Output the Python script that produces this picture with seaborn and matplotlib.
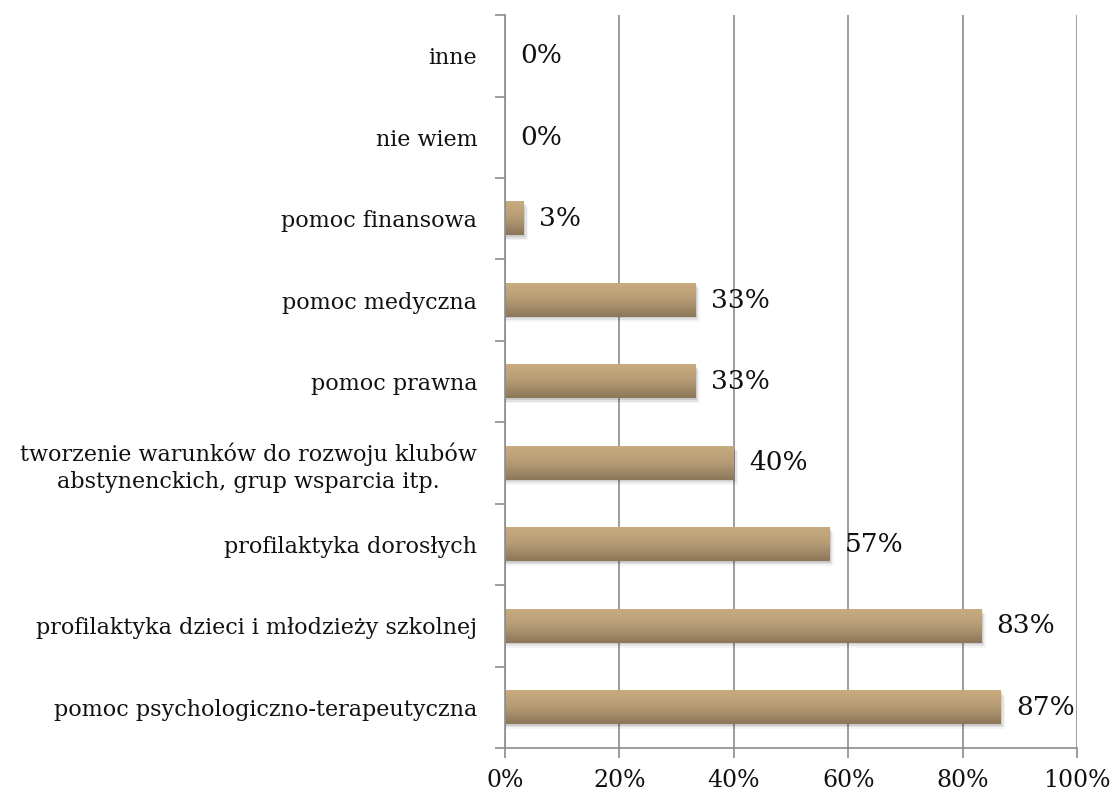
import numpy as np
import pandas as pd
import matplotlib
matplotlib.use("Agg")
import matplotlib.pyplot as plt
from matplotlib.colors import LinearSegmentedColormap
from matplotlib.patches import Rectangle
import seaborn as sns

# Survey answers (top to bottom) and their shares in percent
categories = [
    "inne",
    "nie wiem",
    "pomoc finansowa",
    "pomoc medyczna",
    "pomoc prawna",
    "tworzenie warunków do rozwoju klubów\nabstynenckich, grup wsparcia itp.",
    "profilaktyka dorosłych",
    "profilaktyka dzieci i młodzieży szkolnej",
    "pomoc psychologiczno-terapeutyczna",
]
values = [0.0, 0.0, 3.3, 33.3, 33.3, 40.0, 56.7, 83.3, 86.7]
x_ticks = [0, 20, 40, 60, 80, 100]
x_tick_labels = ["0%", "20%", "40%", "60%", "80%", "100%"]

sns.set_theme(style="white")
FONT = ["DejaVu Serif"]
plt.rcParams["font.family"] = FONT

df = pd.DataFrame({"kategoria": categories, "procent": values})

fig = plt.figure(figsize=(11.12, 7.93), dpi=100)
ax = fig.add_axes([0.4541, 0.0567, 0.5144, 0.9243])

sns.barplot(data=df, x="procent", y="kategoria", orient="h", ax=ax,
            width=0.41, color="#b59b74", saturation=1, errorbar=None)

grid_color = "#8c8c8c"
ax.set_xlim(0, 100)
ax.set_ylim(len(categories) - 0.5, -0.5)

# vertical gridlines
ax.set_xticks(x_ticks)
ax.set_xticklabels(x_tick_labels, fontsize=17, color="#111111")
ax.xaxis.grid(True, color=grid_color, linewidth=1.2)
ax.yaxis.grid(False)
ax.set_axisbelow(True)

for side in ["top", "right"]:
    ax.spines[side].set_visible(False)
for side in ["left", "bottom"]:
    ax.spines[side].set_color(grid_color)
    ax.spines[side].set_linewidth(1.2)

ax.tick_params(axis="x", which="major", length=7, width=1.2, color=grid_color,
               direction="out", pad=8, bottom=True)
ax.tick_params(axis="y", which="major", length=0, pad=20)
ax.set_yticks(np.arange(-0.5, len(categories)), minor=True)
ax.tick_params(axis="y", which="minor", length=7, width=1.2, color=grid_color,
               direction="out", left=True)
for lab in ax.get_yticklabels():
    lab.set_fontsize(16)
    lab.set_multialignment("center")
    lab.set_linespacing(1.3)
    lab.set_color("#111111")
ax.set_xlabel("")
ax.set_ylabel("")

# gradient fill with a soft shadow for each bar
cmap = LinearSegmentedColormap.from_list("tan", ["#c9ab80", "#b59b74", "#8d775a"])
grad = np.linspace(0, 1, 64).reshape(-1, 1)
for patch in list(ax.patches):
    x0 = patch.get_x()
    w = patch.get_width()
    y0 = patch.get_y()
    h = patch.get_height()
    if w <= 0:
        patch.set_visible(False)
        continue
    for k, a in enumerate([0.10, 0.07, 0.04]):
        ax.add_patch(Rectangle((x0, y0 + h * 0.05 * (k + 1)), w + 0.25 * (k + 1), h,
                               facecolor="#000000", alpha=a, edgecolor="none", zorder=1.5))
    ax.imshow(grad, cmap=cmap, aspect="auto", extent=(x0, x0 + w, y0 + h, y0),
              origin="upper", zorder=2, interpolation="bilinear")
    patch.set_visible(False)

ax.set_xlim(0, 100)
ax.set_ylim(len(categories) - 0.5, -0.5)

# value labels
for i, v in enumerate(values):
    ax.annotate(f"{v:.0f}%", xy=(v, i), xytext=(11, 0), textcoords="offset points",
                ha="left", va="center", fontsize=19, color="#111111")

fig.savefig("out.png", dpi=100, facecolor="white")
